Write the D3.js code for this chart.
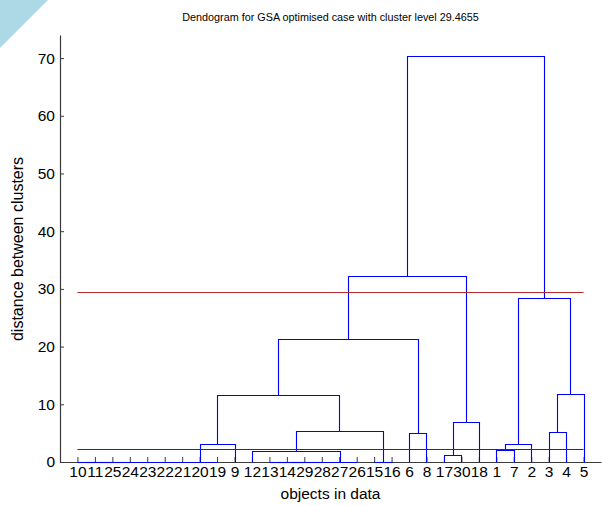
<!DOCTYPE html>
<html><head><meta charset="utf-8">
<script src="https://cdn.jsdelivr.net/npm/d3@7/dist/d3.min.js"></script>
<style>
body{margin:0;background:#fff}
svg{display:block}
text{font-family:"Liberation Sans",Arial,sans-serif;fill:#000}
</style>
</head><body>
<svg id="chart" width="602" height="506"></svg>
<script>
// leaf labels in display order (object ids)
const leafOrder = [10,11,25,24,23,22,21,20,19,9,12,13,14,29,28,27,26,15,16,6,8,17,30,18,1,7,2,3,4,5];
// linkage (MATLAB style): cluster n+k joins linkA[k] and linkB[k] at linkHeight[k]
const linkA = [10,31,32,33,34,35,36,37, 13,39,40,41,42, 15, 17, 1, 12, 46, 38, 6, 3, 47, 45, 49, 51, 54, 48, 56, 58];
const linkB = [11,25,24,23,22,21,20,19, 14,29,28,27,26, 16, 30, 7, 43, 2, 9, 8, 4, 44, 18, 52, 5, 50, 55, 53, 57];
const linkHeight = [0,0,0,0,0,0,0,0, 0,0,0,0,0, 0, 1.2, 2.1, 1.95, 3.05, 3.2, 5.0, 5.15, 5.35, 6.85, 11.65, 11.85, 21.4, 28.5, 32.2, 70.3];
const yTicks = [0,10,20,30,40,50,60,70];
const cutLevel = 29.4655;
const baseLevel = 2.2;
const titleText = "Dendogram for GSA optimised case with cluster level " + cutLevel;
const xLabel = "objects in data";
const yLabel = "distance between clusters";

const svg = d3.select("#chart");
const n = leafOrder.length;
const x = d3.scaleLinear().domain([0, n + 1]).range([60, 601]);
const y = d3.scaleLinear().domain([0, 74]).range([462, 35]);
const sx = v => Math.round(x(v)) + 0.5;
const sy = v => Math.round(y(v)) + 0.5;

// corner decoration
svg.append("polygon").attr("points", "0,0 48,0 0,48").attr("fill", "#add8e6");

// positions
const pos = {}, hgt = {};
leafOrder.forEach((id, i) => { pos[id] = i + 1; hgt[id] = 0; });
linkA.forEach((a, k) => {
  const id = n + 1 + k, b = linkB[k];
  pos[id] = (pos[a] + pos[b]) / 2;
  hgt[id] = linkHeight[k];
});

// axes
const axColor = "#3a3a3a";
const gy = svg.append("g").attr("transform", "translate(60,0)")
  .call(d3.axisLeft(y).tickValues(yTicks).tickSize(-4).tickSizeOuter(0).tickPadding(5));
const gx = svg.append("g").attr("transform", "translate(0,462)")
  .call(d3.axisBottom(x).tickValues(d3.range(1, n + 1)).tickFormat(i => leafOrder[i - 1])
    .tickSize(-5).tickSizeOuter(0).tickPadding(4));
[gx, gy].forEach(g => {
  g.select(".domain").attr("stroke", axColor).attr("stroke-width", 1.2);
  g.selectAll(".tick line").attr("stroke", axColor);
  g.selectAll(".tick text").attr("font-size", "15.5px").attr("fill", "#000")
    .style("font-family", "'Liberation Sans', Arial, sans-serif");
});

// links
svg.append("g").selectAll("path").data(linkA.map((a, k) => ({a, b: linkB[k], h: linkHeight[k]})))
  .join("path")
  .attr("d", d => `M${sx(pos[d.a])},${sy(hgt[d.a])}V${sy(d.h)}H${sx(pos[d.b])}V${sy(hgt[d.b])}`)
  .attr("fill", "none").attr("stroke", "#0000ff").attr("stroke-width", 1.1);

// reference lines
svg.append("line").attr("x1", x(1)).attr("x2", x(n)).attr("y1", sy(baseLevel)).attr("y2", sy(baseLevel))
  .attr("stroke", "#333").attr("stroke-width", 1.1);
svg.append("line").attr("x1", x(1)).attr("x2", x(n)).attr("y1", sy(cutLevel)).attr("y2", sy(cutLevel))
  .attr("stroke", "#b82a2a").attr("stroke-width", 1.1);

// texts
svg.append("text").attr("x", 330.5).attr("y", 21).attr("text-anchor", "middle")
  .attr("font-size", "10.8px").text(titleText);
svg.append("text").attr("x", 330.5).attr("y", 499).attr("text-anchor", "middle")
  .attr("font-size", "15.5px").text(xLabel);
svg.append("text").attr("transform", "translate(23,249) rotate(-90)").attr("text-anchor", "middle")
  .attr("font-size", "16px").text(yLabel);
</script>
</body></html>
